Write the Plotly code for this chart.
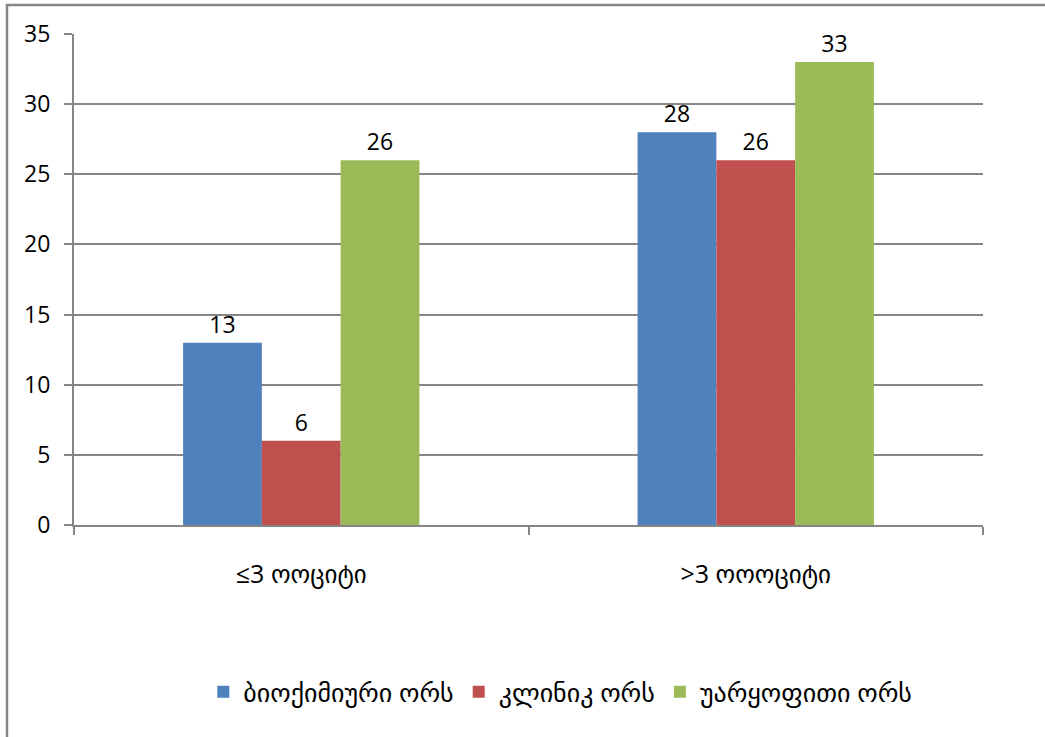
import plotly.graph_objects as go

categories = ["≤3 ოოციტი", ">3 ოოოციტი"]
series_names = ["ბიოქიმიური ორს", "კლინიკ ორს", "უარყოფითი ორს"]
biochemical = [13, 28]
clinical = [6, 26]
negative = [26, 33]
colors = ["#4F81BD", "#C0504D", "#9BBB59"]
y_ticks = [0, 5, 10, 15, 20, 25, 30, 35]

FONT = "Open Sans, DejaVu Sans, sans-serif"
GRID = "#868686"

fig = go.Figure()
for name, vals, col in zip(series_names, [biochemical, clinical, negative], colors):
    fig.add_trace(go.Bar(
        x=categories, y=vals, name=name,
        marker=dict(color=col, line=dict(width=0)),
        text=[str(v) for v in vals], textposition="outside",
        textfont=dict(family=FONT, size=23, color="black"),
        cliponaxis=False,
    ))

fig.update_layout(
    width=1045, height=737,
    margin=dict(l=74, r=62, t=34, b=212),
    paper_bgcolor="white", plot_bgcolor="white",
    barmode="group", bargap=0.48, bargroupgap=0,
    font=dict(family=FONT, size=23, color="black"),
    showlegend=True,
    legend=dict(orientation="h", x=0.535, xanchor="center", y=-0.34, yanchor="middle",
                font=dict(family=FONT, size=26, color="black"),
                itemwidth=30, tracegroupgap=0),
    xaxis=dict(
        showgrid=False, showline=True, linecolor=GRID, linewidth=2,
        ticks="outside", tickson="boundaries", ticklen=8, tickcolor=GRID, tickwidth=2,
        tickfont=dict(family=FONT, size=25, color="black"),
        ticklabelstandoff=26,
    ),
    yaxis=dict(
        range=[0, 35], tickvals=y_ticks, showgrid=True, gridcolor=GRID, gridwidth=1.5,
        showline=True, linecolor=GRID, linewidth=2,
        ticks="outside", ticklen=8, tickcolor=GRID, tickwidth=2,
        tickfont=dict(family=FONT, size=23, color="black"),
        ticklabelstandoff=9,
        zeroline=False,
    ),
)

# outer chart border (left and top edges visible; extends past the page)
fig.add_shape(type="rect", xref="paper", yref="paper",
              x0=(7 - 74) / 909, x1=(1060 - 74) / 909,
              y0=-(760 - 525) / 491, y1=1 + (34 - 5) / 491,
              line=dict(color=GRID, width=2.5), fillcolor="rgba(0,0,0,0)", layer="below")

fig.write_html("out.html", config={"displayModeBar": False},
               post_script="document.body.style.margin='0';")
